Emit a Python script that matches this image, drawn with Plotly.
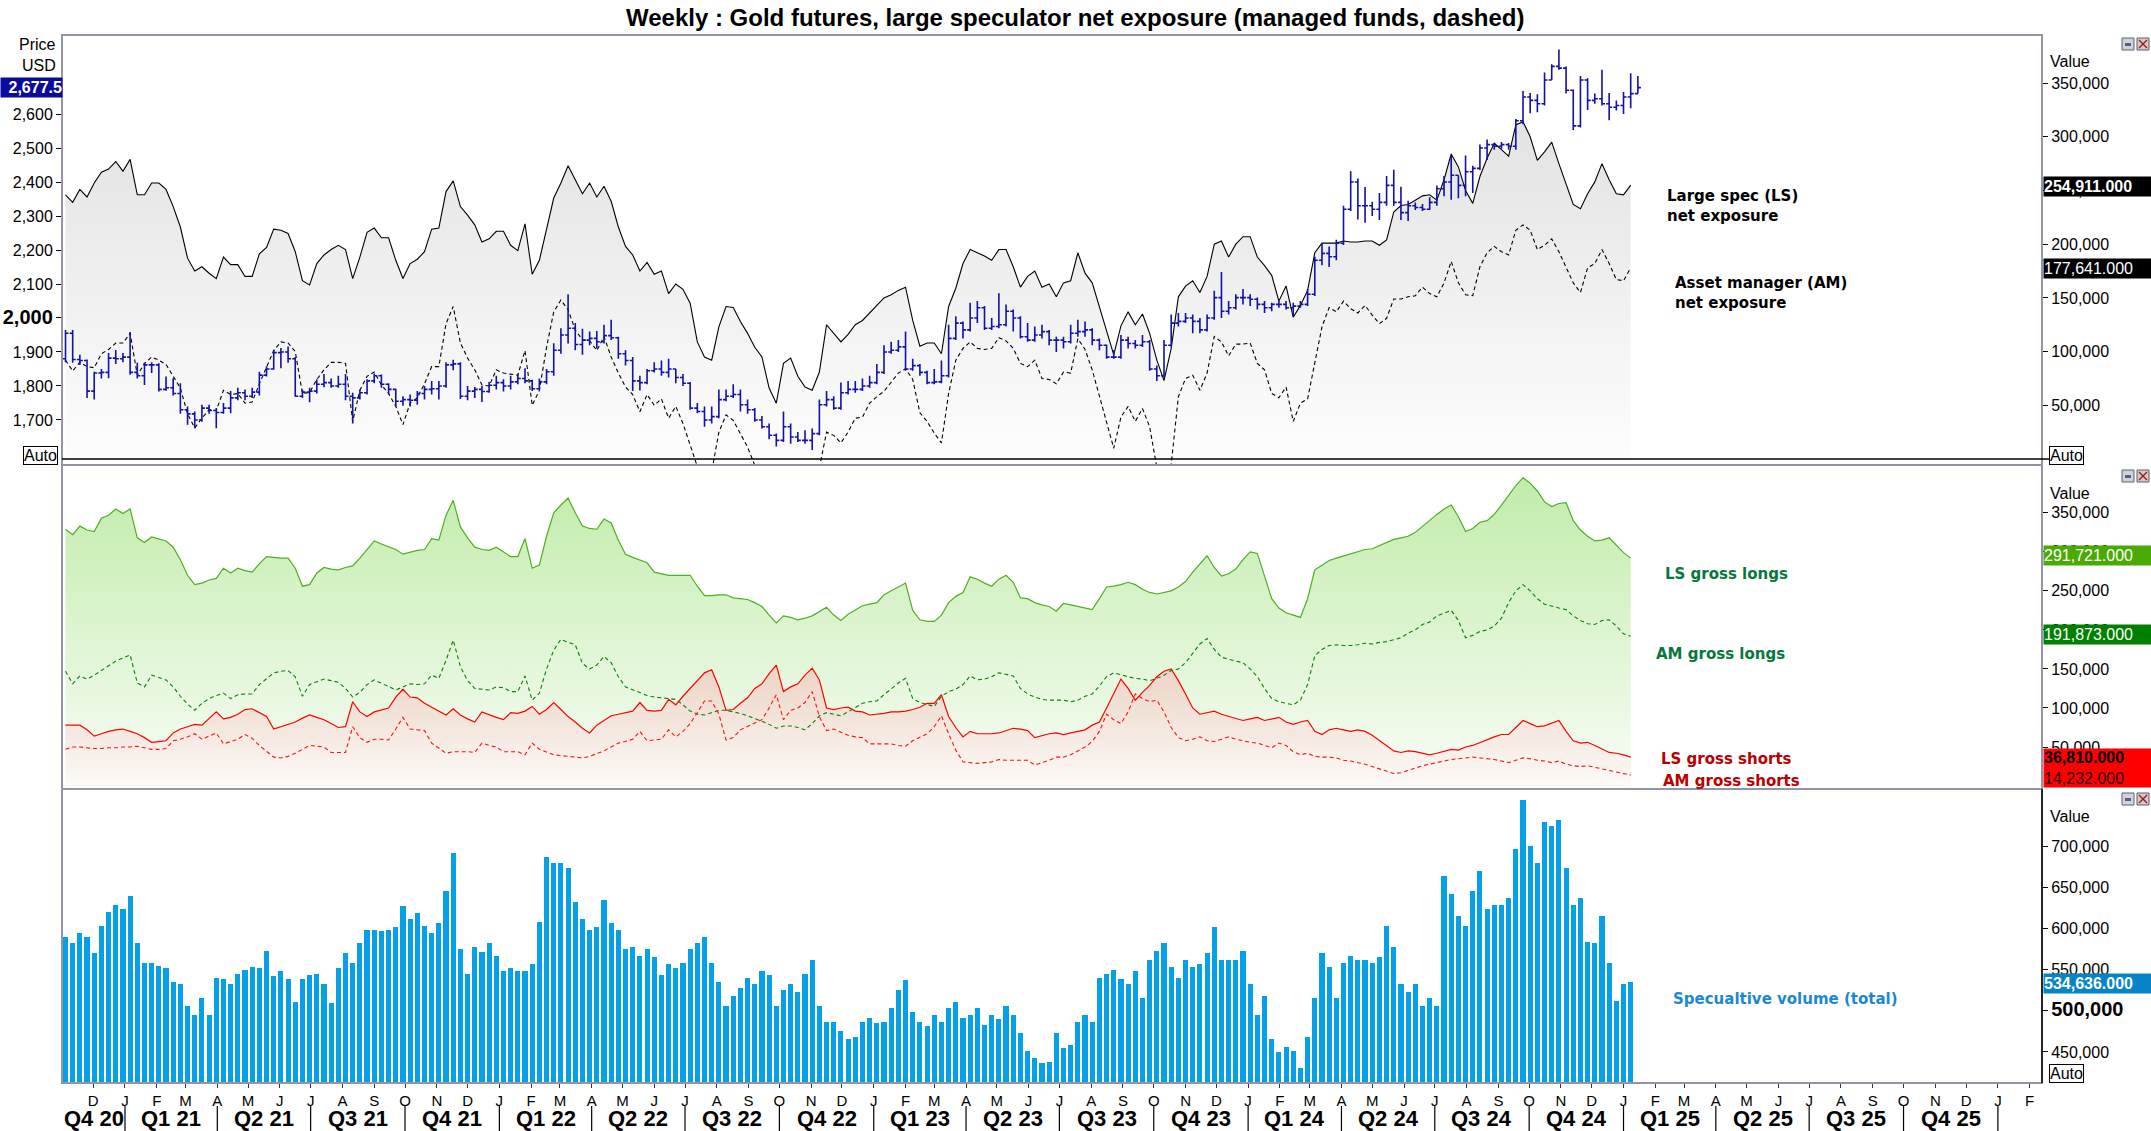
import plotly.graph_objects as go
import pandas as pd

W, H = 2151, 1131
def px(x): return x / W
def py(y): return 1 - y / H

# ---------------- data ----------------
cot_dates = pd.date_range("2020-11-04", periods=219, freq="7D")
price_dates = pd.date_range("2020-11-04", periods=220, freq="7D")

price_close = [
1955,1878,1875,1785,1838,1840,1882,1880,1885,1840,
1830,1862,1862,1790,1795,1778,1730,1718,1700,1735,
1728,1722,1735,1765,1780,1770,1782,1832,1850,1898,
1900,1880,1770,1782,1785,1805,1810,1800,1805,1770,
1765,1780,1815,1830,1805,1790,1755,1760,1758,1778,
1790,1792,1800,1862,1865,1770,1785,1790,1784,1802,
1810,1800,1812,1822,1815,1792,1812,1842,1905,1950,
1970,1922,1935,1940,1930,1948,1942,1895,1875,1815,
1810,1845,1850,1840,1850,1825,1808,1735,1725,1700,
1710,1760,1770,1775,1745,1730,1700,1680,1655,1640,
1680,1650,1640,1640,1660,1745,1760,1735,1780,1790,
1790,1800,1810,1840,1900,1905,1915,1850,1860,1840,
1810,1812,1830,1940,1985,1965,2000,2030,1970,1975,
1980,2020,2000,1945,1935,1950,1960,1935,1935,1930,
1955,1960,1965,1935,1920,1885,1885,1935,1925,1920,
1930,1850,1830,1920,1985,1990,2000,1990,1965,2000,
2060,2020,2030,2060,2060,2055,2040,2030,2040,2040,
2030,2035,2040,2070,2170,2190,2180,2220,2320,2400,
2330,2330,2320,2340,2390,2340,2310,2330,2325,2320,
2340,2380,2400,2420,2390,2430,2440,2500,2510,2505,
2510,2505,2580,2650,2640,2630,2700,2740,2735,2670,
2565,2700,2640,2645,2630,2620,2625,2650,2660,2677.5]
price_open = [
1880,1955,1878,1875,1785,1838,1840,1882,1880,1885,
1840,1830,1862,1862,1790,1795,1778,1730,1718,1700,
1735,1728,1722,1735,1765,1780,1770,1782,1832,1850,
1898,1900,1880,1770,1782,1785,1805,1810,1800,1805,
1770,1765,1780,1815,1830,1805,1790,1755,1760,1758,
1778,1790,1792,1800,1862,1865,1770,1785,1790,1784,
1802,1810,1800,1812,1822,1815,1792,1812,1842,1905,
1950,1970,1922,1935,1940,1930,1948,1942,1895,1875,
1815,1810,1845,1850,1840,1850,1825,1808,1735,1725,
1700,1710,1760,1770,1775,1745,1730,1700,1680,1655,
1640,1680,1650,1640,1640,1660,1745,1760,1735,1780,
1790,1790,1800,1810,1840,1900,1905,1915,1850,1860,
1840,1810,1812,1830,1940,1985,1965,2000,2030,1970,
1975,1980,2020,2000,1945,1935,1950,1960,1935,1935,
1930,1955,1960,1965,1935,1920,1885,1885,1935,1925,
1920,1930,1850,1830,1920,1985,1990,2000,1990,1965,
2000,2060,2020,2030,2060,2060,2055,2040,2030,2040,
2040,2030,2035,2040,2070,2170,2190,2180,2220,2320,
2400,2330,2330,2320,2340,2390,2340,2310,2330,2325,
2320,2340,2380,2400,2420,2390,2430,2440,2500,2510,
2505,2510,2505,2580,2650,2640,2630,2700,2740,2735,
2670,2565,2700,2640,2645,2630,2620,2625,2650,2660]
price_high = [
1965,1965,1892,1878,1842,1850,1897,1906,1897,1959,
1868,1868,1870,1867,1828,1823,1808,1740,1725,1745,
1745,1735,1750,1785,1795,1790,1795,1842,1858,1906,
1912,1916,1885,1790,1795,1820,1835,1822,1830,1835,
1780,1790,1820,1837,1834,1808,1792,1770,1775,1785,
1800,1815,1815,1870,1877,1870,1800,1797,1800,1812,
1830,1820,1830,1836,1852,1818,1822,1850,1926,1970,
2070,1985,1968,1960,1962,1980,1995,1945,1905,1885,
1830,1850,1870,1875,1880,1850,1835,1812,1750,1740,
1740,1790,1790,1805,1790,1760,1735,1712,1690,1660,
1725,1690,1665,1670,1675,1760,1785,1770,1810,1815,
1815,1822,1830,1865,1920,1930,1935,1960,1880,1865,
1845,1850,1875,1980,2005,1990,2045,2050,2035,2000,
2073,2040,2025,2005,1985,1975,1980,1965,1945,1945,
1980,1995,1990,1970,1940,1922,1905,1950,1945,1935,
1950,1935,1860,1935,2010,2015,2015,2010,2000,2010,
2080,2135,2050,2070,2085,2070,2060,2050,2045,2050,
2050,2045,2050,2085,2180,2220,2210,2230,2330,2432,
2410,2385,2342,2368,2418,2436,2386,2345,2340,2335,
2355,2390,2418,2478,2420,2478,2448,2510,2525,2515,
2518,2515,2585,2668,2662,2658,2722,2746,2790,2740,
2672,2712,2705,2660,2730,2662,2640,2665,2720,2712]
price_low = [
1870,1868,1862,1765,1760,1822,1823,1865,1870,1833,
1822,1803,1838,1784,1786,1772,1718,1686,1676,1695,
1718,1676,1718,1720,1758,1758,1765,1772,1828,1848,
1852,1868,1768,1765,1752,1778,1796,1795,1795,1758,
1690,1760,1775,1808,1795,1775,1740,1742,1740,1745,
1760,1775,1760,1795,1846,1762,1758,1765,1753,1780,
1790,1784,1790,1805,1808,1785,1788,1805,1830,1895,
1925,1905,1892,1920,1910,1925,1935,1880,1860,1785,
1787,1805,1840,1830,1825,1808,1800,1730,1720,1680,
1690,1705,1755,1765,1725,1718,1695,1675,1643,1622,
1635,1630,1635,1630,1612,1655,1740,1730,1730,1775,
1780,1785,1795,1805,1835,1895,1900,1845,1845,1830,
1805,1805,1808,1825,1935,1940,1960,1985,1965,1965,
1970,1975,1960,1940,1930,1930,1940,1920,1900,1910,
1925,1945,1945,1920,1905,1880,1880,1880,1910,1910,
1915,1845,1815,1825,1915,1975,1985,1955,1955,1960,
1995,2000,2010,2025,2040,2035,2025,2015,2020,2030,
2025,2005,2030,2035,2065,2155,2150,2170,2215,2315,
2290,2280,2300,2288,2330,2330,2288,2285,2318,2315,
2318,2330,2358,2348,2352,2358,2368,2435,2465,2495,
2498,2495,2495,2570,2602,2605,2625,2700,2730,2660,
2553,2560,2612,2630,2625,2582,2610,2600,2617,2660]

# net exposure, thousands of contracts
ls_net_k = [
246,239,251,244,257,267,270,277,268,279,
246,246,257,257,251,235,216,187,175,179,
173,168,188,181,181,170,170,191,197,214,
213,210,193,166,162,182,190,195,199,195,
168,188,211,215,206,206,185,168,182,186,
193,214,215,249,259,235,227,218,202,205,
212,212,199,194,219,172,185,215,243,257,
273,260,247,257,244,254,240,216,198,190,
175,183,172,175,154,163,158,145,109,95,
92,123,142,141,128,117,104,95,66,52,
89,94,77,67,64,81,125,117,109,116,
125,129,136,142,150,153,157,160,129,105,
108,108,98,142,159,182,195,192,189,185,
195,195,179,160,170,175,160,163,151,164,
166,192,173,164,142,120,97,124,137,125,
135,117,92,73,103,151,161,166,155,170,
200,203,188,200,207,207,188,180,171,147,
161,132,143,157,192,201,201,201,203,202,
202,203,203,199,204,230,236,237,241,245,
246,241,260,284,272,250,238,263,280,294,
288,282,311,314,300,278,286,295,275,257,
237,233,247,258,275,260,247,246,255]
am_net_k = [
92,82,90,86,85,98,102,108,108,117,
78,89,95,92,88,77,66,42,29,38,
46,45,64,60,61,52,53,70,86,101,
109,108,100,61,62,74,83,90,90,89,
35,64,77,81,69,61,49,32,52,57,
70,86,86,126,142,108,94,83,69,68,
83,80,79,78,101,50,64,104,137,148,
139,120,111,110,101,114,95,80,67,60,
44,60,50,56,38,49,33,12,-7,-15,
-12,25,41,36,23,11,-6,-15,-20,-25,
-20,-18,-22,-25,-22,-8,25,22,15,25,
38,39,52,58,63,72,80,84,74,43,
35,24,15,61,92,103,109,103,102,103,
113,110,103,89,86,92,75,74,70,81,
80,112,102,83,58,35,10,39,49,35,
47,30,-8,-12,-5,58,75,78,64,80,
114,109,96,107,107,108,89,83,61,57,
67,35,52,56,91,123,141,137,147,140,
136,143,134,126,131,149,149,151,152,160,
154,151,164,184,164,153,152,179,192,198,
193,190,213,218,213,195,199,205,193,178,
164,155,178,182,195,182,167,166,178]

# gross positions, thousands of contracts
ls_longs_k = [
329,322,333,328,326,343,347,355,349,355,
318,312,319,316,314,306,290,270,258,260,
264,266,279,273,279,276,274,285,294,293,
292,292,279,256,258,273,280,278,277,280,
282,292,303,314,310,306,303,297,300,302,
303,317,315,347,366,332,318,306,303,302,
306,300,294,294,317,279,283,320,350,360,
369,350,333,330,329,342,337,315,297,293,
290,286,274,272,270,270,270,270,256,244,
244,245,245,241,240,239,235,230,219,209,
218,216,213,215,218,224,229,219,212,220,
226,231,233,235,245,250,255,260,225,213,
211,211,219,235,243,248,268,265,260,256,
265,270,261,241,240,235,232,230,224,234,
232,230,228,226,240,255,256,258,261,258,
252,248,246,248,250,255,262,274,284,295,
280,269,272,278,290,300,298,270,240,228,
222,219,216,240,277,283,289,292,295,298,
301,303,304,308,313,316,318,320,325,333,
340,348,355,360,345,326,330,338,340,348,
360,372,385,395,388,378,364,358,362,363,
340,328,320,314,315,318,308,299,292]
am_longs_k = [
147,131,141,137,142,148,153,160,164,168,
132,127,142,139,136,127,115,105,97,106,
112,116,119,112,117,118,118,130,138,145,
147,148,140,115,130,134,137,135,133,125,
114,120,130,136,132,128,123,127,131,130,
131,142,138,161,187,153,135,125,124,123,
127,126,121,121,141,110,119,150,174,188,
184,181,157,150,155,166,158,140,127,123,
119,116,114,113,112,111,104,96,92,91,
94,97,97,95,93,90,87,83,79,74,
77,77,75,72,80,90,94,92,90,95,
100,106,108,109,117,125,132,138,112,107,
104,102,115,121,124,130,141,136,137,140,
145,143,141,125,118,114,111,110,110,110,
108,110,115,118,128,140,145,142,140,138,
137,135,138,142,148,150,158,170,182,189,
175,165,162,160,158,150,140,125,112,108,
106,104,110,130,167,175,180,181,180,180,
181,183,182,184,185,188,190,196,200,207,
210,218,222,225,212,190,193,198,200,205,
215,235,250,258,250,240,233,230,228,226,
218,212,208,207,212,213,205,195,192]
ls_shorts_k = [
78,78,78,72,64,67,70,72,73,70,
67,62,56,57,58,68,73,76,79,78,
87,95,86,88,92,98,99,94,89,73,
76,78,82,87,91,88,85,80,75,76,
108,95,89,95,98,100,114,124,114,113,
106,101,95,91,99,91,86,82,95,92,
88,85,94,93,96,102,92,98,107,98,
89,82,74,68,78,84,90,92,94,96,
107,97,96,97,111,104,115,125,134,145,
149,127,97,98,106,113,125,131,144,155,
121,127,131,142,151,136,100,98,100,101,
96,95,91,92,93,95,95,96,98,101,
106,106,117,89,75,63,70,67,67,67,
68,71,74,73,71,62,65,67,68,66,
68,70,72,78,82,100,118,137,125,110,
120,129,140,147,150,135,118,100,92,94,
96,92,89,87,84,86,88,84,86,88,
82,79,82,84,70,66,72,74,72,70,
72,70,65,58,52,45,43,45,44,42,
40,42,45,47,46,50,52,56,60,63,
66,66,75,84,80,76,77,80,84,70,
58,55,56,52,48,43,42,40,37]
am_shorts_k = [
47,50,50,49,48,48,49,49,50,50,
51,49,47,47,48,58,60,63,67,60,
64,68,54,57,60,66,61,52,44,37,
36,38,42,47,52,51,50,43,43,43,
76,62,56,60,60,59,73,88,73,72,
71,55,48,42,44,44,44,43,55,52,
50,44,44,44,40,55,47,44,40,39,
38,37,36,38,41,45,50,55,57,60,
70,58,59,60,72,63,70,80,94,109,
109,92,59,62,72,76,80,85,100,117,
85,97,100,107,121,89,71,73,69,65,
63,62,54,54,54,54,52,51,58,63,
67,76,90,67,46,31,30,29,30,31,
34,33,33,33,33,27,30,33,37,37,
40,45,50,57,70,92,85,80,95,118,
112,108,110,95,75,62,58,60,63,58,
57,60,63,60,58,56,55,52,49,55,
52,44,40,42,38,37,37,36,33,32,
30,28,25,22,18,16,17,20,24,26,
28,30,32,34,35,36,37,36,35,34,
32,30,33,36,35,33,32,30,32,28,
26,25,26,24,22,20,18,16,14]

# speculative volume (total), thousands of contracts
volume_k = [
590,582,595,590,570,603,620,629,624,640,
582,558,558,555,552,535,532,506,495,515,
495,540,538,532,545,550,553,552,573,542,
548,538,511,538,543,545,532,510,552,570,
558,582,598,598,597,598,602,627,612,619,
603,595,607,645,692,575,545,578,572,582,
567,548,552,548,548,557,608,687,679,679,
674,632,612,598,602,634,607,598,575,578,
567,575,565,543,557,552,558,575,582,590,
558,535,506,518,528,540,532,548,543,506,
525,533,523,545,562,506,486,486,475,466,
468,486,491,485,486,503,525,537,498,486,
481,495,486,503,511,491,495,503,483,495,
490,506,495,473,451,443,436,438,473,455,
458,486,495,486,540,545,550,538,532,548,
515,562,573,582,553,540,562,553,557,570,
602,562,562,562,573,532,495,518,466,450,
456,451,431,468,515,570,553,515,558,567,
562,562,558,565,603,578,533,523,533,506,
515,506,664,642,615,603,645,670,624,629,
629,637,696,756,700,679,729,724,732,674,
629,637,583,582,615,558,512,532,535]

# axis tick labels
price_ticks = [1700, 1800, 1900, 2000, 2100, 2200, 2300, 2400, 2500, 2600]
net_ticks = [50000, 100000, 150000, 200000, 250000, 300000, 350000]
vol_ticks = [450000, 500000, 550000, 600000, 650000, 700000]
month_letters = "JFMAMJJASOND"
quarter_names = ["Q4 20", "Q1 21", "Q2 21", "Q3 21", "Q4 21", "Q1 22", "Q2 22", "Q3 22",
                 "Q4 22", "Q1 23", "Q2 23", "Q3 23", "Q4 23", "Q1 24", "Q2 24", "Q3 24",
                 "Q4 24", "Q1 25", "Q2 25", "Q3 25", "Q4 25"]

# ---------------- figure ----------------
FONT = "Liberation Sans, Arial, sans-serif"
NARROW = "Liberation Sans Narrow, Arial Narrow, Liberation Sans, sans-serif"
VERD = "DejaVu Sans, Verdana, sans-serif"

fig = go.Figure()

k = lambda arr: [v * 1000 for v in arr]

# top panel
fig.add_trace(go.Scatter(
    x=cot_dates, y=k(ls_net_k), xaxis="x", yaxis="y3", mode="lines",
    line=dict(color="black", width=1.1), fill="tozeroy",
    fillgradient=dict(type="vertical", colorscale=[[0, "#fdfdfd"], [1, "#e3e3e3"]],
                      start=0, stop=310000),
    hoverinfo="skip"))
fig.add_trace(go.Scatter(
    x=cot_dates, y=k(am_net_k), xaxis="x", yaxis="y3", mode="lines",
    line=dict(color="black", width=1.1, dash="4px,3px"), hoverinfo="skip"))
fig.add_trace(go.Ohlc(
    x=price_dates, open=price_open, high=price_high, low=price_low, close=price_close,
    xaxis="x", yaxis="y4", tickwidth=0.42,
    increasing=dict(line=dict(color="#1212a6", width=1.6)),
    decreasing=dict(line=dict(color="#1212a6", width=1.6)),
    hoverinfo="skip"))

# middle panel
fig.add_trace(go.Scatter(
    x=cot_dates, y=k(ls_longs_k), xaxis="x", yaxis="y2", mode="lines",
    line=dict(color="#4fae22", width=1.2), fill="tozeroy",
    fillgradient=dict(type="vertical", colorscale=[[0, "#f9fdf7"], [1, "#c2ecab"]],
                      start=0, stop=390000),
    hoverinfo="skip"))
fig.add_trace(go.Scatter(
    x=cot_dates, y=k(ls_shorts_k), xaxis="x", yaxis="y2", mode="lines",
    line=dict(color="#ff0000", width=1.2), fill="tozeroy",
    fillgradient=dict(type="vertical", colorscale=[[0, "#fcfaf8"], [1, "#ebd3c3"]],
                      start=0, stop=155000),
    hoverinfo="skip"))
fig.add_trace(go.Scatter(
    x=cot_dates, y=k(am_longs_k), xaxis="x", yaxis="y2", mode="lines",
    line=dict(color="#0a800a", width=1.1, dash="4px,3px"), hoverinfo="skip"))
fig.add_trace(go.Scatter(
    x=cot_dates, y=k(am_shorts_k), xaxis="x", yaxis="y2", mode="lines",
    line=dict(color="#ff1010", width=1.1, dash="4px,3px"), hoverinfo="skip"))

# bottom panel
fig.add_trace(go.Bar(
    x=cot_dates, y=k(volume_k), xaxis="x", yaxis="y",
    marker=dict(color="#06a0e8", line=dict(width=0)), width=5 * 86400000,
    hoverinfo="skip"))

# ---------------- axes ----------------
month_vals = pd.date_range("2020-12-01", "2026-02-01", freq="MS")
month_text = [month_letters[d.month - 1] for d in month_vals]

tickfont = dict(family=FONT, size=16, color="black")
fig.update_layout(
    width=W, height=H, margin=dict(l=0, r=0, t=0, b=0),
    paper_bgcolor="white", plot_bgcolor="rgba(0,0,0,0)",
    showlegend=False, bargap=0,
    xaxis=dict(domain=[px(62), px(2042)], anchor="y", type="date",
               range=["2020-10-31 14:00", "2026-02-13"],
               tickvals=month_vals, ticktext=month_text, tickangle=0,
               ticks="outside", ticklen=4, tickcolor="#333", tickwidth=1,
               tickfont=dict(family=NARROW, size=15, color="black"),
               showgrid=False, zeroline=False, showline=False,
               rangeslider=dict(visible=False)),
    yaxis=dict(domain=[py(1083), py(789)], anchor="x", side="right",
               range=[412200, 769500], tickvals=vol_ticks,
               ticktext=["450,000", "<span style='font-size:20px'><b>500,000</b></span>",
                         "550,000", "600,000", "650,000", "700,000"],
               ticks="outside", ticklen=5, tickcolor="black", tickfont=tickfont,
               showgrid=False, zeroline=False, showline=False),
    yaxis2=dict(domain=[py(789), py(466)], anchor="x", side="right",
                range=[-3800, 410000], tickvals=net_ticks,
                ticktext=[f"{v:,}" for v in net_ticks],
                ticks="outside", ticklen=5, tickcolor="black", tickfont=tickfont,
                showgrid=False, zeroline=False, showline=False),
    yaxis3=dict(domain=[py(465), py(35)], anchor="x", side="right",
                range=[-5600, 394800], tickvals=net_ticks,
                ticktext=[f"{v:,}" for v in net_ticks],
                ticks="outside", ticklen=5, tickcolor="black", tickfont=tickfont,
                showgrid=False, zeroline=False, showline=False),
    yaxis4=dict(overlaying="y3", anchor="x", side="left",
                range=[1567.6, 2832.4], tickvals=price_ticks,
                ticktext=[("<span style='font-size:20px'><b>2,000</b></span>" if v == 2000 else f"{v:,}")
                          for v in price_ticks],
                ticks="outside", ticklen=5, tickcolor="black", tickfont=tickfont,
                showgrid=False, zeroline=False, showline=False),
)

# ---------------- shapes ----------------
shapes = []
border = "#9494a6"
for (y0, y1) in [(35, 465), (465, 789), (789, 1083)]:
    shapes.append(dict(type="rect", xref="paper", yref="paper", x0=px(62), x1=px(2042),
                       y0=py(y1), y1=py(y0), line=dict(color=border, width=2), layer="above"))
shapes.append(dict(type="line", xref="paper", yref="paper", x0=px(2042), x1=px(2042),
                   y0=py(1083), y1=py(789), line=dict(color="black", width=1.5), layer="above"))
# zero line of net exposure
shapes.append(dict(type="line", xref="paper", yref="y3", x0=px(62), x1=px(2049), y0=0, y1=0,
                   line=dict(color="black", width=1.6), layer="above"))
# quarter separators
for d in pd.date_range("2021-01-01", "2026-01-01", freq="QS"):
    shapes.append(dict(type="line", xref="x", yref="paper", x0=d, x1=d,
                       y0=py(1131), y1=py(1106), line=dict(color="black", width=1.2)))
# small window buttons
for yt in [38, 470, 793]:
    shapes.append(dict(type="rect", xref="paper", yref="paper", x0=px(2122), x1=px(2134),
                       y0=py(yt + 12), y1=py(yt), fillcolor="#cfd3de", line=dict(color="#5a6070", width=1)))
    shapes.append(dict(type="rect", xref="paper", yref="paper", x0=px(2137), x1=px(2149),
                       y0=py(yt + 12), y1=py(yt), fillcolor="#d8c8c8", line=dict(color="#5a6070", width=1)))
    shapes.append(dict(type="line", xref="paper", yref="paper", x0=px(2139), x1=px(2147),
                       y0=py(yt + 10), y1=py(yt + 2), line=dict(color="#9a2020", width=1.5)))
    shapes.append(dict(type="line", xref="paper", yref="paper", x0=px(2139), x1=px(2147),
                       y0=py(yt + 2), y1=py(yt + 10), line=dict(color="#9a2020", width=1.5)))
    shapes.append(dict(type="rect", xref="paper", yref="paper", x0=px(2125), x1=px(2131),
                       y0=py(yt + 8), y1=py(yt + 5), fillcolor="#5a6070", line=dict(width=0)))
fig.update_layout(shapes=shapes)

# ---------------- annotations ----------------
ann = []
def text(x, y, s, size=16, color="black", family=FONT, xanchor="left", bold=False, **kw):
    ann.append(dict(x=px(x), y=py(y), xref="paper", yref="paper", text=(f"<b>{s}</b>" if bold else s),
                    showarrow=False, xanchor=xanchor, yanchor="middle",
                    font=dict(size=size, color=color, family=family), **kw))

def box(x, y, w, h, s, bg, color="white", bold=True, align="left"):
    ann.append(dict(x=px(x), y=py(y), xref="paper", yref="paper", text=(f"<b>{s}</b>" if bold else s),
                    showarrow=False, xanchor="left", yanchor="middle", width=w, height=h,
                    bgcolor=bg, borderpad=0, align=align, valign="middle",
                    font=dict(size=16, color=color, family=FONT)))

text(1075, 17, "Weekly : Gold futures, large speculator net exposure (managed funds, dashed)",
     size=24, xanchor="center", bold=True)

text(58, 44, "Price", xanchor="right")
text(58, 65, "USD", xanchor="right")
text(2048, 62, "Value")
text(2048, 493, "Value")
text(2048, 816, "Value")

box(0, 88, 61, 19, "2,677.5", "#0a0a9c", align="right")
box(2043, 186.5, 108, 19, "254,911.000", "black")
box(2043, 268, 108, 19, "177,641.000", "black", bold=False)
box(2043, 555.5, 108, 19, "291,721.000", "#4aaa04", bold=False)
box(2043, 635, 108, 19, "191,873.000", "#008000", bold=False)
box(2043, 767.5, 108, 38,
    "<b>36,810.000</b><br><span style='color:#2a0000'>14,232.000</span>", "#ff0000",
    color="black", bold=False)
box(2043, 983.5, 108, 19, "534,636.000", "#0784c8")

for (x, y) in [(23, 455.5), (2049, 455), (2049, 1073.5)]:
    ann.append(dict(x=px(x), y=py(y), xref="paper", yref="paper", text="Auto", showarrow=False,
                    xanchor="left", yanchor="middle", bgcolor="white", bordercolor="black",
                    borderwidth=1, borderpad=0, font=dict(size=16, family=FONT, color="black")))

text(1665, 206, "Large spec (LS)<br>net exposure", size=15, family=VERD, bold=True, align="left")
text(1673, 293, "Asset manager (AM)<br>net exposure", size=15, family=VERD, bold=True, align="left")
text(1663, 574, "LS gross longs", size=15, family=VERD, bold=True, color="#08773c")
text(1654, 654, "AM gross longs", size=15, family=VERD, bold=True, color="#08773c")
text(1659, 759, "LS gross shorts", size=15, family=VERD, bold=True, color="#bb0000")
text(1661, 781, "AM gross shorts", size=15, family=VERD, bold=True, color="#bb0000")
text(1671, 999, "Specualtive volume (total)", size=15, family=VERD, bold=True, color="#1a88d6")

# quarter labels
qstarts = list(pd.date_range("2020-10-01", "2026-01-01", freq="QS"))
for i, name in enumerate(quarter_names):
    s, e = qstarts[i], qstarts[i + 1]
    if i == 0:
        s = pd.Timestamp("2020-10-31 14:00")
    mid = s + (e - s) / 2
    ann.append(dict(x=mid, y=py(1118), xref="x", yref="paper", text=f"<b>{name}</b>",
                    showarrow=False, xanchor="center", yanchor="middle",
                    font=dict(size=22, family=NARROW, color="black")))

fig.update_layout(annotations=ann)

fig.write_html("out.html")
